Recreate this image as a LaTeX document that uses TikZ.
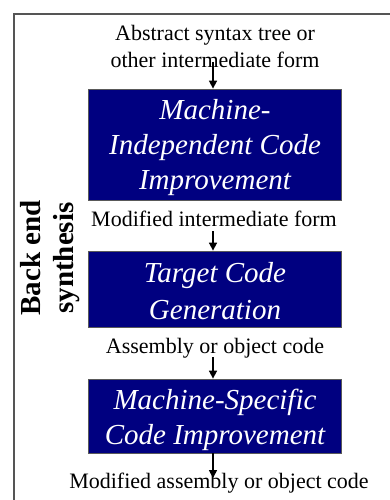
\documentclass[tikz,border=0pt]{standalone}
\usepackage{fontspec}
\setmainfont{Liberation Serif}
\usetikzlibrary{arrows.meta}
\definecolor{boxblue}{HTML}{000080}
\definecolor{framegray}{HTML}{555555}
\begin{document}
\begin{tikzpicture}[x=1pt,y=-1pt,
  stagebox/.style={draw=gray!70!black, line width=0.8pt, fill=boxblue,
    minimum width=253pt, inner sep=0pt},
  stagetext/.style={text=white, align=center, inner sep=0pt,
    font=\fontsize{29}{35}\selectfont\itshape},
  lbl/.style={align=center, inner sep=0pt, font=\fontsize{22}{27}\selectfont},
  flow/.style={line width=1.6pt, -{Triangle[width=8pt,length=8pt]}}]
\useasboundingbox (0,0) rectangle (390,500);
\fill[white] (0,0) rectangle (390,500);
\draw[framegray, line width=1.8pt] (14,500) -- (14,14) -- (390,14);
\node[lbl] (t0) at (215,46) {Abstract syntax tree or\\other intermediate form};
\node[stagebox, minimum height=111pt] (b1) at (215,144.5) {};
\node[stagetext] (b1t) at ([yshift=-3.5pt]b1.center) {Machine-\\Independent Code\\Improvement};
\node[lbl] (t1) at (214,219) {Modified intermediate form};
\node[stagebox, minimum height=76pt] (b2) at (215,289) {};
\node[stagetext] (b2t) at ([yshift=-2.5pt]b2.center) {Target Code\\[2pt]Generation};
\node[lbl] (t2) at (215,348) {Assembly or object code};
\node[stagebox, minimum height=74pt] (b3) at (215,416) {};
\node[stagetext] (b3t) at ([yshift=-3.5pt]b3.center) {Machine-Specific\\Code Improvement};
\node[lbl] (t3) at (219,483) {Modified assembly or object code};
\coordinate (a0) at (213,62);
\coordinate (a1) at (213,231);
\coordinate (a2) at (213,357);
\coordinate (a3) at (213,478);
\draw[flow] (a0) -- (b1.north -| a0);
\draw[flow] (a1) -- (b2.north -| a1);
\draw[flow] (a2) -- (b3.north -| a2);
\draw[flow] (b3.south -| a3) -- (a3);
\node[rotate=90, align=center, inner sep=0pt, font=\fontsize{29}{33}\selectfont\bfseries] (side) at (50,258) {Back end\\synthesis};
\end{tikzpicture}
\end{document}
